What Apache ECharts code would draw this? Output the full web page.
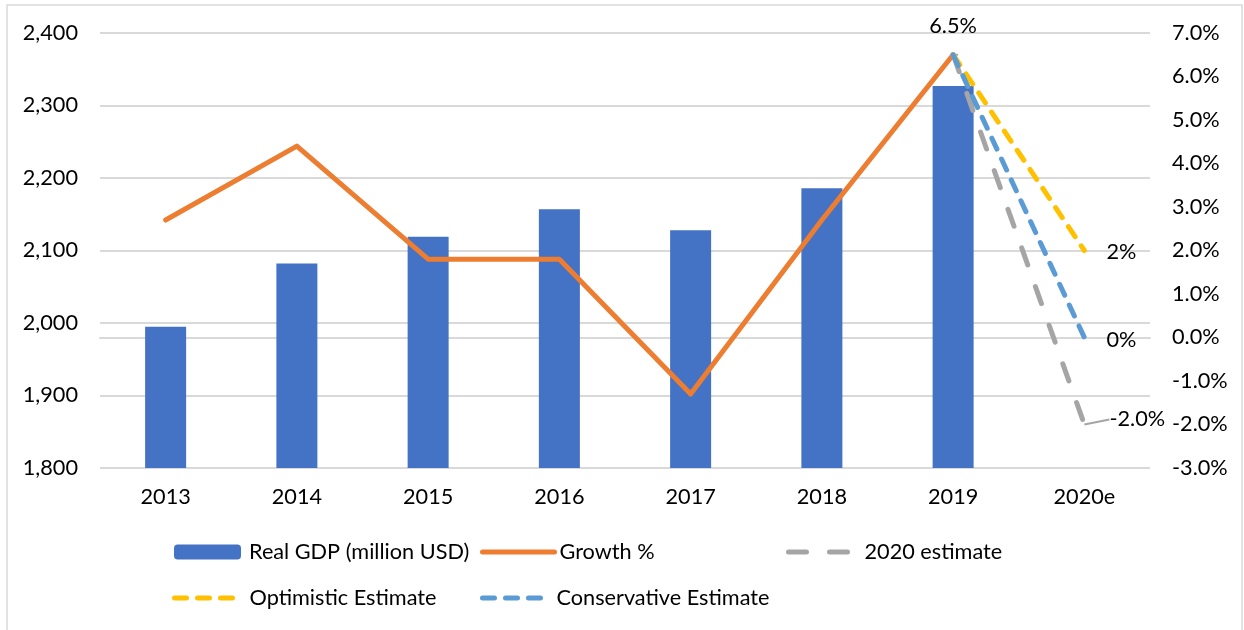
<!DOCTYPE html>
<html>
<head>
<meta charset="utf-8">
<script src="https://cdn.jsdelivr.net/npm/echarts@6/dist/echarts.min.js"></script>
<style>
  html, body { margin: 0; padding: 0; background: #fff; }
  #chart { width: 1244px; height: 630px; }
</style>
</head>
<body>
<div id="chart"></div>
<script>
// Years on the category axis
const categories = ['2013', '2014', '2015', '2016', '2017', '2018', '2019', '2020e'];
// Real GDP, million USD (left axis)
const gdp = [1995, 2082, 2119, 2157, 2128, 2186, 2327, null];
// Year-on-year growth, % (right axis)
const growth = [2.7, 4.4, 1.8, 1.8, -1.3, 2.7, 6.5, null];
// 2020 scenarios, starting from the 2019 growth rate
const estimate2020 = [null, null, null, null, null, null, 6.5, -2.0];
const optimistic = [null, null, null, null, null, null, 6.5, 2.0];
const conservative = [null, null, null, null, null, null, 6.5, 0.0];
// Axis ticks
const leftTicks = [1800, 1900, 2000, 2100, 2200, 2300, 2400];
const rightTicks = [-3, -2, -1, 0, 1, 2, 3, 4, 5, 6, 7];

const FONT = 'Lato';
const FS = 21.7;
const TXT = '#000000';
const GRIDC = '#D9D9D9';
const LW = 5;

const chart = echarts.init(document.getElementById('chart'), null, { renderer: 'canvas' });

// One legend box per entry so each can sit at its own spot
function legendAt(name, left, top, w, textGap, isLine) {
  const lg = {
    data: [name],
    left: left,
    top: top,
    padding: 0,
    itemWidth: w,
    itemHeight: 15,
    textStyle: { fontFamily: FONT, fontSize: FS, color: TXT, padding: [0, 0, 0, textGap] },
    selectedMode: false
  };
  if (isLine) {
    lg.itemStyle = { opacity: 0 };
    lg.lineStyle = { width: LW, cap: 'round' };
  }
  return lg;
}

const lastIdx = categories.length - 1;

function lineLabel(fmt, extra) {
  return Object.assign({
    show: true,
    fontFamily: FONT, fontSize: FS, color: TXT,
    formatter: fmt
  }, extra);
}

const option = {
  animation: false,
  backgroundColor: '#ffffff',
  graphic: [{
    type: 'rect',
    shape: { x: 7, y: 5, width: 1235, height: 640 },
    style: { fill: 'none', stroke: '#D9D9D9', lineWidth: 1.5 },
    silent: true
  }],
  grid: { left: 100, right: 94, top: 33, bottom: 162 },
  legend: [
    legendAt('Real GDP (million USD)', 174, 541, 67, 3, false),
    legendAt('Growth %', 480, 541, 72, 0, true),
    legendAt('2020 estimate', 786, 541, 66, 5, true),
    legendAt('Optimistic Estimate', 172, 587, 65, 5, true),
    legendAt('Conservative Estimate', 480, 587, 65, 4, true)
  ],
  xAxis: {
    type: 'category',
    data: categories,
    boundaryGap: true,
    axisLine: { show: true, lineStyle: { color: GRIDC, width: 2 } },
    axisTick: { show: false },
    axisLabel: { fontFamily: FONT, fontSize: FS, color: TXT, margin: 18 }
  },
  yAxis: [{
    type: 'value',
    min: leftTicks[0],
    max: leftTicks[leftTicks.length - 1],
    interval: 100,
    axisLine: { show: false },
    axisTick: { show: false },
    splitLine: { show: true, lineStyle: { color: GRIDC, width: 2 } },
    axisLabel: {
      fontFamily: FONT, fontSize: FS, color: TXT, margin: 22,
      formatter: v => v.toLocaleString('en-US')
    }
  }, {
    type: 'value',
    min: rightTicks[0],
    max: rightTicks[rightTicks.length - 1],
    interval: 1,
    axisLine: { show: false },
    axisTick: { show: false },
    splitLine: { show: false },
    axisLabel: {
      fontFamily: FONT, fontSize: FS, color: TXT, margin: 22,
      formatter: v => v.toFixed(1) + '%'
    }
  }],
  series: [{
    name: 'Real GDP (million USD)',
    type: 'bar',
    data: gdp,
    barWidth: 41,
    itemStyle: { color: '#4472C4' },
    z: 1
  }, {
    name: 'Growth %',
    type: 'line',
    yAxisIndex: 1,
    data: growth,
    symbol: 'circle',
    symbolSize: 0,
    lineStyle: { color: '#ED7D31', width: LW, cap: 'round', join: 'round' },
    itemStyle: { color: '#ED7D31' },
    label: lineLabel(p => p.dataIndex === 6 ? p.value.toFixed(1) + '%' : '',
      { position: 'top', distance: 18 }),
    z: 3
  }, {
    name: '2020 estimate',
    type: 'line',
    yAxisIndex: 1,
    data: estimate2020,
    symbol: 'circle',
    symbolSize: 0,
    lineStyle: { color: '#A5A5A5', width: LW, type: [18, 23], cap: 'round' },
    itemStyle: { color: '#A5A5A5' },
    label: lineLabel(p => p.dataIndex === lastIdx ? p.value.toFixed(1) + '%' : '',
      { position: 'right', distance: 5 }),
    labelLayout: p => p.dataIndex === lastIdx ? { dx: 20, dy: -5 } : {},
    labelLine: { show: true, lineStyle: { color: '#A5A5A5', width: 2 } },
    z: 4
  }, {
    name: 'Optimistic Estimate',
    type: 'line',
    yAxisIndex: 1,
    data: optimistic,
    symbol: 'circle',
    symbolSize: 0,
    lineStyle: { color: '#FFC000', width: LW, type: [12, 11], cap: 'round' },
    itemStyle: { color: '#FFC000' },
    label: lineLabel(p => p.dataIndex === lastIdx ? p.value.toFixed(0) + '%' : '',
      { position: 'right', distance: 22, offset: [0, 2] }),
    z: 5
  }, {
    name: 'Conservative Estimate',
    type: 'line',
    yAxisIndex: 1,
    data: conservative,
    symbol: 'circle',
    symbolSize: 0,
    lineStyle: { color: '#5B9BD5', width: LW, type: [12, 11], cap: 'round' },
    itemStyle: { color: '#5B9BD5' },
    label: lineLabel(p => p.dataIndex === lastIdx ? p.value.toFixed(0) + '%' : '',
      { position: 'right', distance: 22, offset: [0, 3] }),
    z: 6
  }]
};

chart.setOption(option);
</script>
</body>
</html>
